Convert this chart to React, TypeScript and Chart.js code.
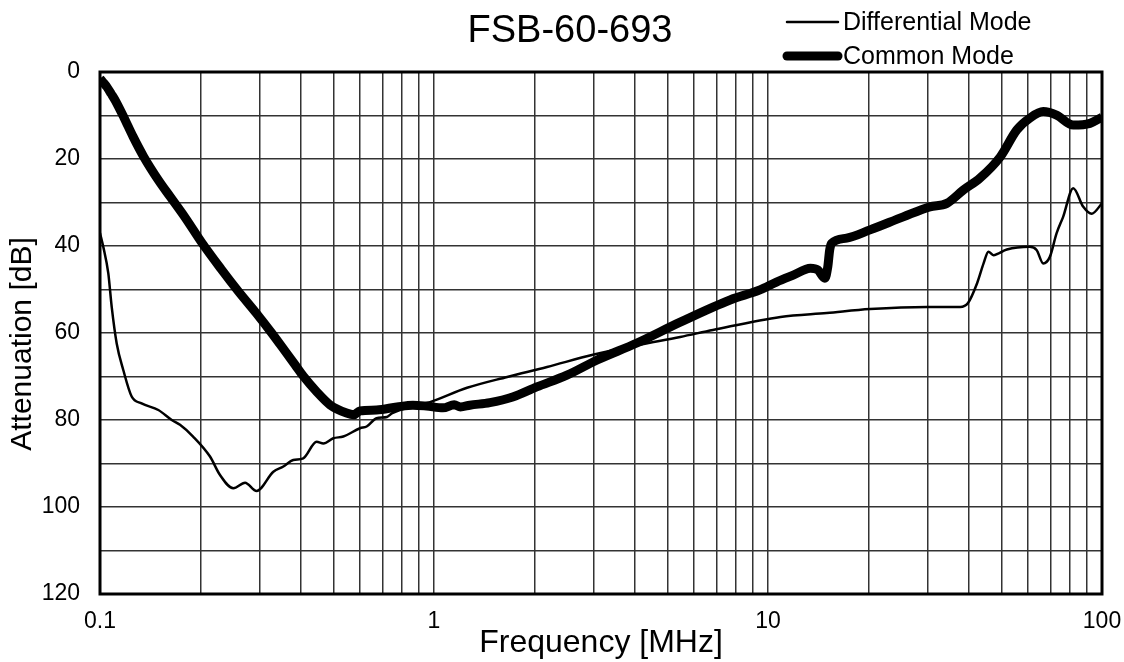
import React, { useEffect, useRef } from "react";
import { Chart, registerables } from "chart.js";

Chart.register(...registerables);

const TITLE = "FSB-60-693";
const X_TITLE = "Frequency [MHz]";
const Y_TITLE = "Attenuation [dB]";
const SERIES_LABELS = ["Differential Mode", "Common Mode"];

const X_GRID = [0.1, 0.2, 0.3, 0.4, 0.5, 0.6, 0.7, 0.8, 0.9, 1, 2, 3, 4, 5, 6, 7, 8, 9, 10, 20, 30, 40, 50, 60, 70, 80, 90, 100];
const X_LABELED = [0.1, 1, 10, 100];
const Y_LABELED = [0, 20, 40, 60, 80, 100, 120];

const DM_FREQ = [0.1, 0.1023, 0.1059, 0.1084, 0.1122, 0.1174, 0.1244, 0.1332, 0.1495, 0.164, 0.1736, 0.19, 0.2135, 0.2285, 0.2507, 0.2718, 0.2944, 0.3304, 0.354, 0.379, 0.406, 0.4453, 0.4664, 0.4995, 0.535, 0.6003, 0.6286, 0.673, 0.723, 0.75, 0.973, 1.256, 1.656, 2.18, 2.99, 4.05, 5.46, 6.84, 10.9, 15.0, 20.2, 29.9, 37.6, 39.7, 42.3, 44.2, 45.7, 47.3, 51.9, 60.8, 63.7, 66.7, 69.8, 73.1, 76.5, 82, 87.9, 93.1, 100];
const DM_DB = [37, 40.2, 46.3, 54, 62.4, 68.5, 74.6, 76.2, 77.7, 80, 81.1, 83.8, 88.4, 92.6, 95.7, 94.4, 96.3, 91.9, 90.7, 89.2, 88.8, 85, 85.4, 84.2, 83.8, 81.9, 81.5, 79.6, 79.3, 78.4, 75.9, 72.6, 70.1, 67.8, 65, 62.8, 60.9, 59.3, 56.3, 55.4, 54.5, 54, 54, 53.1, 48.5, 44, 41.3, 42.1, 40.8, 40.2, 40.9, 44, 42.5, 37.1, 33.3, 26.7, 31, 32.6, 30.2];

const CM_FREQ = [0.1, 0.102, 0.105, 0.108, 0.111, 0.118, 0.1255, 0.135, 0.15, 0.162, 0.18, 0.2016, 0.23, 0.2594, 0.2934, 0.3266, 0.36, 0.3837, 0.406, 0.4453, 0.488, 0.5473, 0.575, 0.6, 0.673, 0.775, 0.865, 0.95, 1.064, 1.15, 1.2, 1.28, 1.47, 1.72, 2.03, 2.5, 3.08, 4.05, 5.46, 7.7, 9.46, 10.6, 11.9, 13.4, 14.1, 14.8, 15.1, 15.3, 15.5, 17.2, 20.2, 25.4, 30.5, 34.3, 38.5, 43.1, 49.6, 55.6, 60.8, 66.7, 73.1, 82, 92, 100];
const CM_DB = [1.5, 2.3, 3.5, 5, 6.5, 10.5, 14.8, 19.4, 25, 28.6, 33.5, 39.2, 45.2, 50.4, 55.4, 60, 64.4, 67.3, 69.9, 73.5, 76.5, 78.4, 78.8, 77.9, 77.7, 77, 76.6, 76.8, 77.2, 76.5, 77, 76.6, 76, 74.7, 72.4, 69.7, 66.2, 62.3, 57.5, 52.4, 50.1, 48.3, 46.7, 45.1, 45.5, 47.4, 44.8, 40.9, 39.4, 38.2, 36.3, 33.3, 31, 30.2, 27.1, 24.4, 19.5, 13.3, 10.6, 9.1, 9.9, 12.2, 11.8, 10.4];

const FONT = "'Liberation Sans', Arial, sans-serif";

const overlayPlugin = {
  id: "overlay",
  afterDraw(chart: any) {
    const { ctx, chartArea: a } = chart;
    ctx.save();
    // frame
    ctx.strokeStyle = "#000";
    ctx.lineWidth = 3;
    ctx.strokeRect(a.left, a.top, a.right - a.left, a.bottom - a.top);

    // chart title
    ctx.fillStyle = "#000";
    ctx.font = `38px ${FONT}`;
    ctx.textAlign = "center";
    ctx.textBaseline = "middle";
    ctx.fillText(TITLE, 570, 32);

    // legend (top right)
    const lx0 = 787, lx1 = 838, tx = 843;
    const rows = [22, 56];
    chart.data.datasets.forEach((ds: any, i: number) => {
      const y = rows[i];
      ctx.beginPath();
      ctx.strokeStyle = ds.borderColor;
      ctx.lineWidth = ds.borderWidth;
      ctx.lineCap = "round";
      ctx.moveTo(lx0, y);
      ctx.lineTo(lx1, y);
      ctx.stroke();
      ctx.fillStyle = "#000";
      ctx.font = `25px ${FONT}`;
      ctx.textAlign = "left";
      ctx.textBaseline = "middle";
      ctx.fillText(ds.label, tx, y + 1);
    });

    // y axis title
    ctx.translate(23, 344);
    ctx.rotate(-Math.PI / 2);
    ctx.font = `30px ${FONT}`;
    ctx.textAlign = "center";
    ctx.textBaseline = "middle";
    ctx.fillStyle = "#000";
    ctx.fillText(Y_TITLE, 0, 0);
    ctx.restore();
  },
};

export default function App() {
  const ref = useRef<HTMLCanvasElement>(null);

  useEffect(() => {
    if (!ref.current) return;
    const chart = new Chart(ref.current, {
      type: "line",
      data: {
        datasets: [
          {
            label: SERIES_LABELS[0],
            data: DM_FREQ.map((f, i) => ({ x: f, y: DM_DB[i] })),
            borderColor: "#000",
            borderWidth: 2.5,
            pointRadius: 0,
            cubicInterpolationMode: "monotone",
            fill: false,
          },
          {
            label: SERIES_LABELS[1],
            data: CM_FREQ.map((f, i) => ({ x: f, y: CM_DB[i] })),
            borderColor: "#000",
            borderWidth: 9,
            pointRadius: 0,
            cubicInterpolationMode: "monotone",
            fill: false,
          },
        ],
      },
      plugins: [overlayPlugin],
      options: {
        animation: false,
        responsive: true,
        maintainAspectRatio: false,
        layout: { padding: { top: 72, right: 22, left: 0, bottom: 0 } },
        plugins: {
          legend: { display: false },
          tooltip: { enabled: false },
          title: { display: false },
        },
        scales: {
          x: {
            type: "logarithmic",
            min: 0.1,
            max: 100,
            afterBuildTicks: (scale: any) => {
              scale.ticks = X_GRID.map((v) => ({ value: v }));
            },
            afterFit: (scale: any) => {
              scale.height = 68;
              scale.paddingLeft = 0;
              scale.paddingRight = 0;
            },
            ticks: {
              autoSkip: false,
              maxRotation: 0,
              padding: 14,
              color: "#000",
              font: { family: FONT, size: 23 },
              callback: (v: any) => (X_LABELED.includes(Number(v)) ? String(v) : ""),
            },
            grid: { color: "#333", lineWidth: 1.5, drawTicks: false },
            border: { display: false },
            title: {
              display: true,
              text: X_TITLE,
              color: "#000",
              font: { family: FONT, size: 32, lineHeight: 1 },
              padding: { top: 0, bottom: 3 },
            },
          },
          y: {
            type: "linear",
            min: 0,
            max: 120,
            reverse: true,
            afterFit: (scale: any) => {
              scale.width = 100;
              scale.paddingTop = 0;
              scale.paddingBottom = 0;
            },
            ticks: {
              stepSize: 10,
              autoSkip: false,
              padding: 20,
              color: "#000",
              font: { family: FONT, size: 23 },
              callback: (v: any) => (Y_LABELED.includes(Number(v)) ? String(v) : ""),
            },
            grid: { color: "#333", lineWidth: 1.5, drawTicks: false },
            border: { display: false },
          },
        },
      },
    } as any);
    return () => chart.destroy();
  }, []);

  return (
    <div style={{ position: "fixed", left: 0, top: 0, width: 1124, height: 662, background: "#fff" }}>
      <canvas ref={ref} />
    </div>
  );
}
